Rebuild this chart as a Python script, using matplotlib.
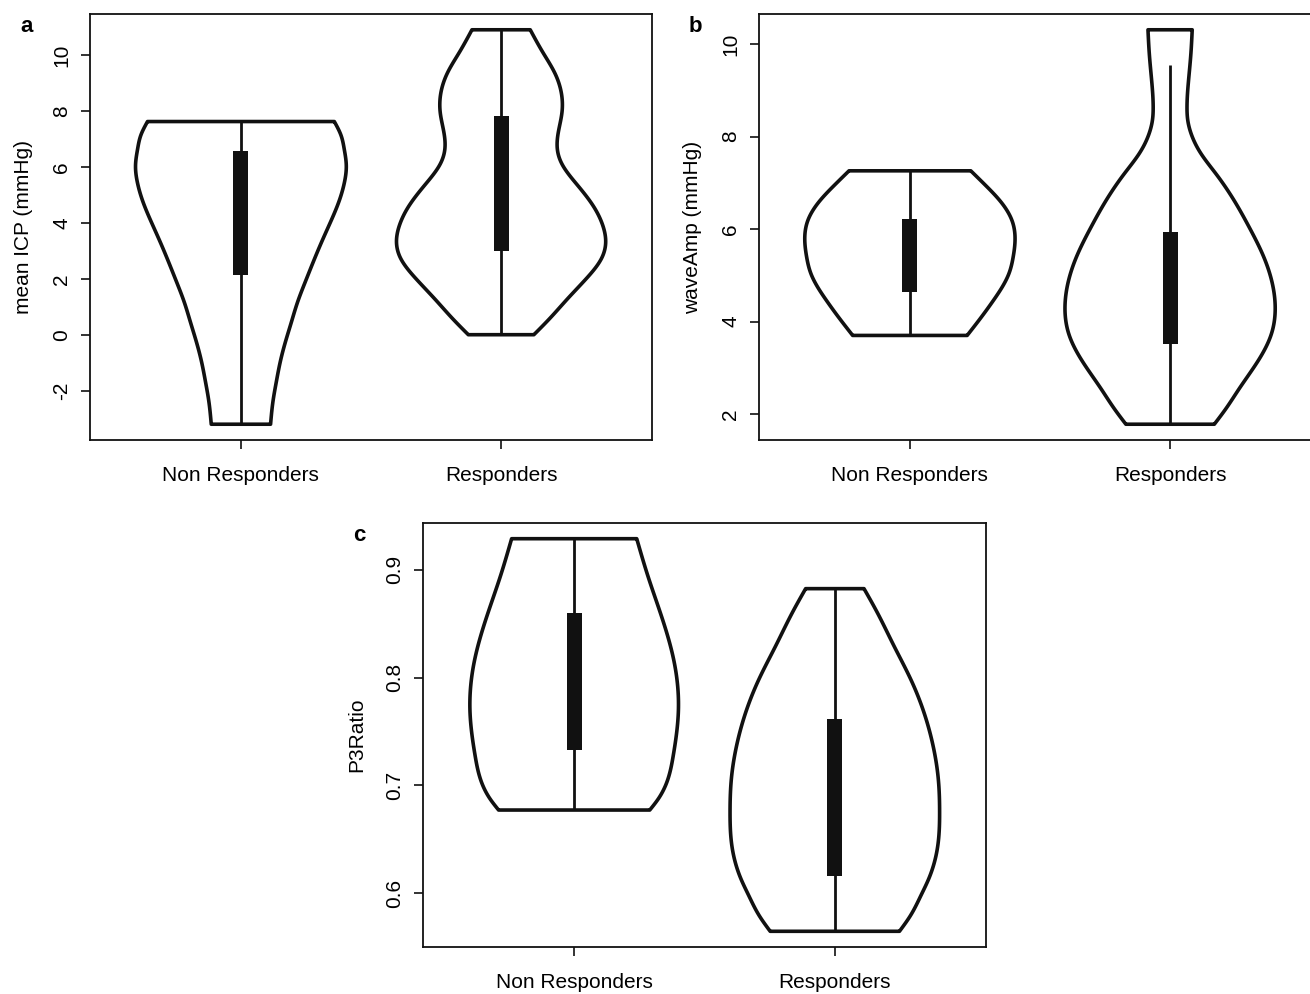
"""Violin plots of responders vs non responders for three ICP indices."""

import matplotlib

matplotlib.use("Agg")

import matplotlib.pyplot as plt
import numpy as np

plt.rcParams["font.family"] = ["Liberation Sans", "DejaVu Sans"]
plt.rcParams["axes.unicode_minus"] = False

GROUPS = ["Non Responders", "Responders"]

# violin profiles: value levels (ascending) and half-width of the density at each level
ICP_NR_Y = [-3.2, -2.4, -1.69, -0.98, -0.26, 0.45, 1.17, 1.88, 2.60, 3.31, 4.02, 4.74, 5.45,
            6.05, 6.64, 7.12, 7.62]
ICP_NR_W = [0.114, 0.123, 0.136, 0.151, 0.171, 0.194, 0.218, 0.247, 0.278, 0.31, 0.344, 0.376,
            0.398, 0.405, 0.397, 0.385, 0.359]
ICP_R_Y = [0.0, 0.57, 1.29, 2.0, 2.71, 3.31, 3.90, 4.62, 5.33, 6.05, 6.52, 7.24, 7.95, 8.67,
           9.38, 10.1, 10.9]
ICP_R_W = [0.126, 0.186, 0.256, 0.327, 0.385, 0.402, 0.391, 0.353, 0.295, 0.237, 0.218, 0.22,
           0.234, 0.231, 0.205, 0.16, 0.112]
ICP_BOX = [(2.15, 6.58), (2.99, 7.83)]
ICP_WHISK = [(-3.2, 7.62), (0.0, 10.9)]

AMP_NR_Y = [3.70, 4.10, 4.45, 5.03, 5.40, 5.75, 6.19, 6.62, 6.95, 7.26]
AMP_NR_W = [0.22, 0.275, 0.32, 0.38, 0.397, 0.404, 0.392, 0.345, 0.29, 0.234]
AMP_R_Y = [1.78, 2.12, 2.56, 3.14, 3.71, 4.29, 4.87, 5.45, 6.03, 6.61, 7.19, 7.63, 8.06, 8.35,
           8.64, 9.22, 9.80, 10.31]
AMP_R_W = [0.17, 0.215, 0.267, 0.337, 0.388, 0.404, 0.391, 0.356, 0.305, 0.247, 0.177, 0.119,
           0.081, 0.068, 0.065, 0.071, 0.08, 0.085]
AMP_BOX = [(4.65, 6.21), (3.52, 5.93)]
AMP_WHISK = [(3.70, 7.26), (1.78, 9.54)]

P3_NR_Y = [0.6772, 0.6873, 0.7275, 0.7707, 0.8139, 0.8633, 0.894, 0.9287]
P3_NR_W = [0.29, 0.322, 0.38, 0.40, 0.384, 0.326, 0.283, 0.24]
P3_R_Y = [0.5648, 0.5793, 0.5978, 0.6133, 0.6441, 0.675, 0.7059, 0.7367, 0.7676, 0.7985,
          0.8293, 0.8602, 0.8824]
P3_R_W = [0.248, 0.29, 0.33, 0.36, 0.395, 0.402, 0.397, 0.377, 0.342, 0.291, 0.227, 0.163, 0.112]
P3_BOX = [(0.733, 0.8596), (0.6163, 0.7614)]
P3_WHISK = [(0.6772, 0.9287), (0.5648, 0.8824)]

ICP_TICKS = [-2, 0, 2, 4, 6, 8, 10]
AMP_TICKS = [2, 4, 6, 8, 10]
P3_TICKS = [0.6, 0.7, 0.8, 0.9]

INK = "#111111"


def spline(x, y, xs):
    """Natural cubic spline through the profile points."""
    x = np.asarray(x, float)
    y = np.asarray(y, float)
    n = len(x)
    h = np.diff(x)
    A = np.zeros((n, n))
    r = np.zeros(n)
    A[0, 0] = A[-1, -1] = 1.0
    for i in range(1, n - 1):
        A[i, i - 1] = h[i - 1]
        A[i, i] = 2 * (h[i - 1] + h[i])
        A[i, i + 1] = h[i]
        r[i] = 3 * ((y[i + 1] - y[i]) / h[i] - (y[i] - y[i - 1]) / h[i - 1])
    c = np.linalg.solve(A, r)
    b = np.diff(y) / h - h * (2 * c[:-1] + c[1:]) / 3
    d = np.diff(c) / (3 * h)
    idx = np.clip(np.searchsorted(x, xs, side="right") - 1, 0, n - 2)
    t = xs - x[idx]
    return y[idx] + b[idx] * t + c[idx] * t**2 + d[idx] * t**3


def violin(ax, pos, levels, widths, box, whisk):
    ys = np.linspace(levels[0], levels[-1], 400)
    ws = spline(levels, widths, ys)
    xs = np.concatenate([pos - ws, (pos + ws)[::-1]])
    yy = np.concatenate([ys, ys[::-1]])
    ax.fill(xs, yy, facecolor="white", edgecolor=INK, lw=2.6, joinstyle="round", zorder=2)
    ax.plot([pos, pos], whisk, color=INK, lw=2.0, solid_capstyle="butt", zorder=3)
    ax.add_patch(plt.Rectangle((pos - 0.029, box[0]), 0.058, box[1] - box[0],
                               facecolor=INK, edgecolor="none", zorder=4))


def panel(fig, rect, letter, ylabel, profiles, boxes, whisks, yticks, labelpad):
    ax = fig.add_axes(rect)
    lo = min(p[0][0] for p in profiles)
    hi = max(p[0][-1] for p in profiles)
    pad = 0.04 * (hi - lo)
    for i, (levels, widths) in enumerate(profiles):
        violin(ax, i + 1, levels, widths, boxes[i], whisks[i])
    ax.set_xlim(0.42, 2.58)
    ax.set_ylim(lo - pad, hi + pad)
    ax.set_xticks([1, 2])
    ax.set_xticklabels(GROUPS, fontsize=15)
    ax.set_yticks(yticks)
    ax.set_yticklabels([f"{t:g}" for t in yticks], fontsize=15, rotation=90, va="center")
    ax.tick_params(direction="out", length=6.5, width=1.2, color=INK)
    ax.tick_params(axis="x", pad=12)
    ax.tick_params(axis="y", pad=7)
    for s in ax.spines.values():
        s.set_linewidth(1.3)
        s.set_color(INK)
    ax.set_ylabel(ylabel, fontsize=15, labelpad=labelpad)
    x0 = rect[0] * 1310 - 70
    fig.text(x0 / 1310, rect[1] + rect[3] - 0.018, letter, fontsize=16,
             fontweight="bold", va="baseline", ha="left")
    return ax


fig = plt.figure(figsize=(13.1, 9.94), dpi=100)

panel(fig, [90 / 1310, 554 / 994, 562 / 1310, 426 / 994], "a", "mean ICP (mmHg)",
      [(ICP_NR_Y, ICP_NR_W), (ICP_R_Y, ICP_R_W)], ICP_BOX, ICP_WHISK, ICP_TICKS, 14)
panel(fig, [759 / 1310, 554 / 994, 562 / 1310, 426 / 994], "b", "waveAmp (mmHg)",
      [(AMP_NR_Y, AMP_NR_W), (AMP_R_Y, AMP_R_W)], AMP_BOX, AMP_WHISK, AMP_TICKS, 14)
panel(fig, [423 / 1310, 47 / 994, 563 / 1310, 424 / 994], "c", "P3Ratio",
      [(P3_NR_Y, P3_NR_W), (P3_R_Y, P3_R_W)], P3_BOX, P3_WHISK, P3_TICKS, 14)

fig.savefig("out.png", dpi=100)
